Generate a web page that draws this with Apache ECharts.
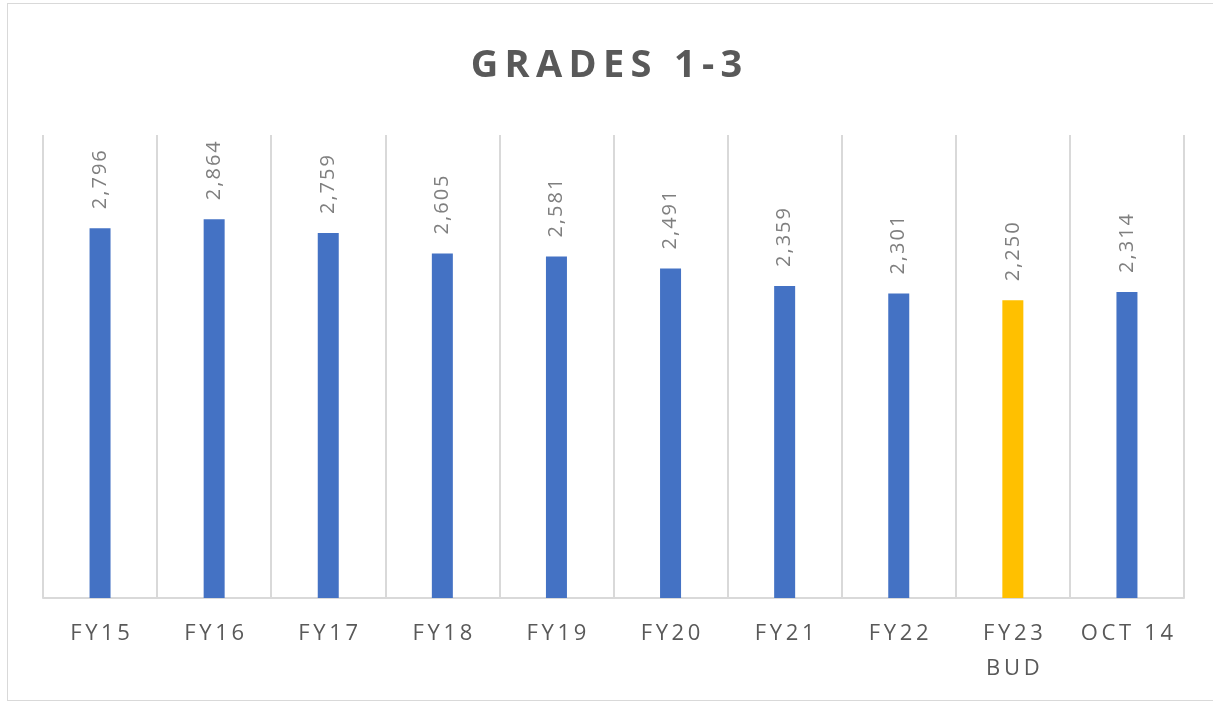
<!DOCTYPE html>
<html>
<head>
<meta charset="utf-8">
<script src="https://cdn.jsdelivr.net/npm/echarts@6/dist/echarts.min.js"></script>
<style>
  html, body { margin: 0; padding: 0; background: #ffffff; }
  #frame {
    position: absolute; left: 7px; top: 3px; width: 1220px; height: 698px;
    border: 1.5px solid #d9d9d9; box-sizing: border-box;
  }
  #chart { position: absolute; left: 0; top: 0; width: 1213px; height: 701px; }
</style>
</head>
<body>
<div id="frame"></div>
<div id="chart"></div>
<script>
const categories = ["FY15", "FY16", "FY17", "FY18", "FY19", "FY20", "FY21", "FY22", "FY23\nBUD", "OCT 14"];
const values = [2796, 2864, 2759, 2605, 2581, 2491, 2359, 2301, 2250, 2314];
const highlightIndex = 8;

const BLUE = "#4472c4";
const GOLD = "#ffc000";

function spaced(text, gap = "\u2009") {
  // Excel-style letter spacing
  return text.split("\n").map((line) => line.split("").join(gap)).join("\n");
}

const chart = echarts.init(document.getElementById("chart"), null, { renderer: "canvas" });

chart.setOption({
  animation: false,
  textStyle: { fontFamily: "Open Sans, sans-serif" },
  title: {
    text: spaced("GRADES 1-3"),
    left: "center",
    top: 42,
    textStyle: {
      fontSize: 38,
      fontWeight: "bold",
      color: "#595959",
      fontFamily: "Open Sans, sans-serif",
    },
  },
  grid: { left: 43, right: 29, top: 135, bottom: 103 },
  xAxis: {
    type: "category",
    data: categories,
    axisTick: { show: false },
    axisLine: { lineStyle: { color: "#d9d9d9", width: 2 } },
    splitLine: { show: true, lineStyle: { color: "#d9d9d9", width: 2 } },
    axisLabel: {
      interval: 0,
      margin: 18,
      fontSize: 22,
      lineHeight: 35,
      color: "#595959",
      formatter: (v) => spaced(v),
    },
  },
  yAxis: {
    type: "value",
    min: 0,
    max: 3500,
    show: false,
    splitLine: { show: false },
  },
  series: [
    {
      type: "bar",
      barWidth: 21,
      data: values.map((v, i) => ({
        value: v,
        itemStyle: { color: i === highlightIndex ? GOLD : BLUE },
      })),
      label: {
        show: true,
        position: "top",
        rotate: 90,
        align: "left",
        verticalAlign: "middle",
        distance: 19,
        fontSize: 20,
        color: "#7f7f7f",
        formatter: (p) => spaced(p.value.toLocaleString("en-US"), "\u200a"),
      },
    },
  ],
});
</script>
</body>
</html>
